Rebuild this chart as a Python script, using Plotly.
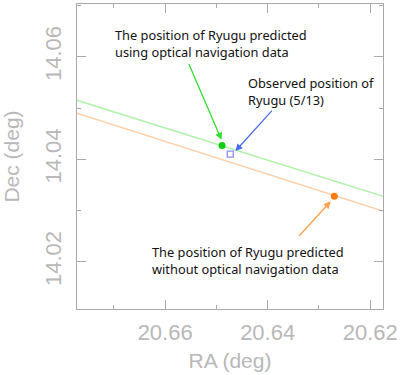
import plotly.graph_objects as go

# Data
ra_range = [20.6772, 20.6175]
dec_range = [14.0108, 14.0703]

green_line_ra = [20.6772, 20.6175]
green_line_dec = [14.0515, 14.0328]
orange_line_ra = [20.6772, 20.6175]
orange_line_dec = [14.0490, 14.0299]

with_optnav_ra = [20.6489]
with_optnav_dec = [14.0427]
observed_ra = [20.6473]
observed_dec = [14.0410]
without_optnav_ra = [20.6270]
without_optnav_dec = [14.0328]

x_ticks = [20.66, 20.64, 20.62]
y_ticks = [14.02, 14.04, 14.06]

GRAY = "#b8b8b8"
AXIS = "#aaaaaa"

fig = go.Figure()
fig.add_trace(go.Scatter(x=green_line_ra, y=green_line_dec, mode="lines",
                         line=dict(color="#b4f2b0", width=1.6), hoverinfo="skip"))
fig.add_trace(go.Scatter(x=orange_line_ra, y=orange_line_dec, mode="lines",
                         line=dict(color="#fdd1ad", width=1.6), hoverinfo="skip"))
fig.add_trace(go.Scatter(x=with_optnav_ra, y=with_optnav_dec, mode="markers",
                         marker=dict(color="#11cc11", size=7, symbol="circle")))
fig.add_trace(go.Scatter(x=observed_ra, y=observed_dec, mode="markers",
                         marker=dict(color="#8c8cf5", size=6, symbol="square-open",
                                     line=dict(color="#8c8cf5", width=1.3))))
fig.add_trace(go.Scatter(x=without_optnav_ra, y=without_optnav_dec, mode="markers",
                         marker=dict(color="#ff7a10", size=7, symbol="circle")))

TXT = dict(family="Noto Sans, Open Sans, sans-serif", size=12.8, color="#111111")

anns = [
    # arrows
    dict(x=20.6490, y=14.0438, ax=20.6555, ay=14.0589, color="#33dd33"),
    dict(x=20.6463, y=14.0416, ax=20.6389, ay=14.0498, color="#4a6cf0"),
    dict(x=20.6277, y=14.0318, ax=20.6341, ay=14.0248, color="#ffa04a"),
]
for a in anns:
    fig.add_annotation(x=a["x"], y=a["y"], ax=a["ax"], ay=a["ay"], xref="x", yref="y",
                       axref="x", ayref="y", text="", showarrow=True, arrowhead=2,
                       arrowsize=1.1, arrowwidth=1.3, arrowcolor=a["color"])

fig.add_annotation(x=20.6702, y=14.0626, xref="x", yref="y", xanchor="left", yanchor="middle",
                   align="left", showarrow=False, font=TXT,
                   text="The position of Ryugu predicted<br>using optical navigation data")
fig.add_annotation(x=20.6442, y=14.0532, xref="x", yref="y", xanchor="left", yanchor="middle",
                   align="left", showarrow=False, font=TXT,
                   text="Observed position of<br>Ryugu (5/13)")
fig.add_annotation(x=20.6629, y=14.0203, xref="x", yref="y", xanchor="left", yanchor="middle",
                   align="left", showarrow=False, font=TXT,
                   text="The position of Ryugu predicted<br>without optical navigation data")

TICKFONT = dict(family="Liberation Sans, Arial, sans-serif", size=22, color=GRAY)
axis_common = dict(showgrid=False, zeroline=False, showline=True, linecolor=AXIS, linewidth=1,
                   mirror="ticks", ticks="inside", ticklen=9, tickcolor=AXIS, tickwidth=1,
                   automargin=False, tickfont=TICKFONT,
                   minor=dict(ticks="inside", ticklen=4, tickcolor=AXIS, dtick=0.01, showgrid=False))

fig.update_xaxes(range=ra_range, tickvals=x_ticks, ticktext=[f"{v:.2f}" for v in x_ticks],
                 title=dict(text="RA (deg)", font=dict(family=TICKFONT["family"],
                                                       size=21, color=GRAY), standoff=8),
                 ticklabelstandoff=4, **axis_common)
fig.update_yaxes(range=dec_range, tickvals=y_ticks, ticktext=[f"{v:.2f}" for v in y_ticks],
                 tickangle=-90,
                 title=dict(text="Dec (deg)", font=dict(family=TICKFONT["family"],
                                                        size=21, color=GRAY), standoff=24),
                 ticklabelstandoff=6, **axis_common)

fig.update_layout(width=401, height=375, margin=dict(l=77, r=18, t=4, b=66),
                  paper_bgcolor="white", plot_bgcolor="white", showlegend=False)

fig.write_html("out.html", config={"displayModeBar": False},
               post_script="document.body.style.margin='0px';document.body.style.overflow='hidden';")
